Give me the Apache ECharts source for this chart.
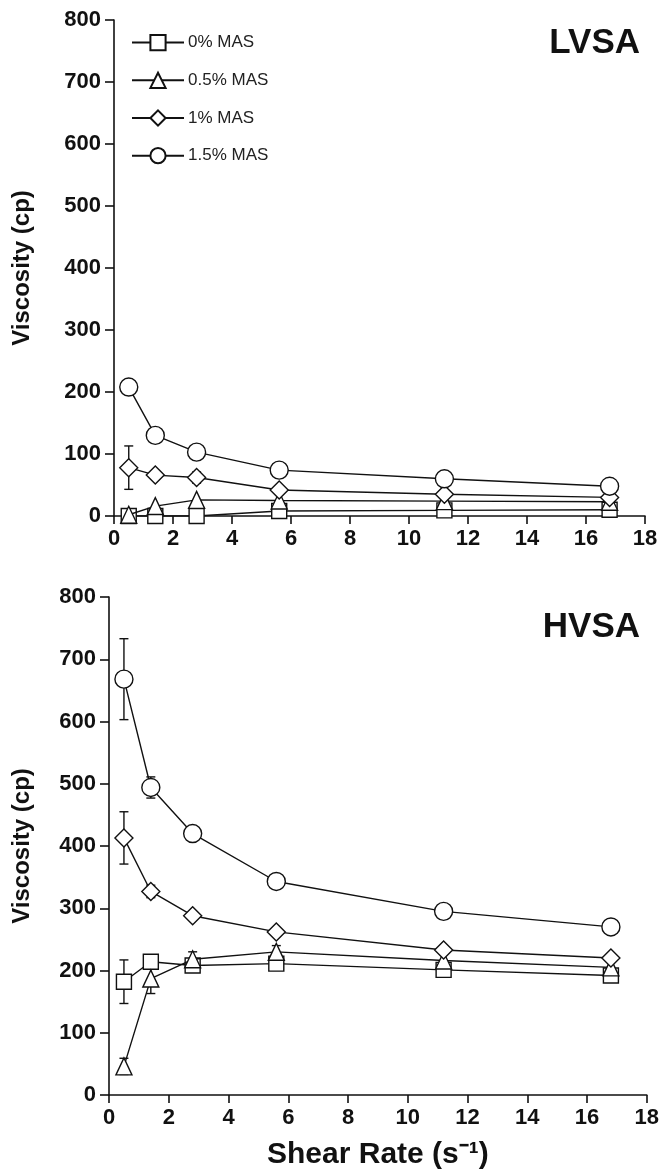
<!DOCTYPE html>
<html>
<head>
<meta charset="utf-8">
<script src="https://cdn.jsdelivr.net/npm/echarts@6/dist/echarts.min.js"></script>
<style>
html,body{margin:0;padding:0;background:#fff;}
#chart{width:662px;height:1171px;}
</style>
</head>
<body>
<div id="chart"></div>
<script>
// ---- data ----
const shearRate = [0.5, 1.4, 2.8, 5.6, 11.2, 16.8];
const seriesNames = ['0% MAS', '0.5% MAS', '1% MAS', '1.5% MAS'];
const xTicks = [0, 2, 4, 6, 8, 10, 12, 14, 16, 18];
const yTicks = [0, 100, 200, 300, 400, 500, 600, 700, 800];

// LVSA (top)
const lvsa0  = [0, 0, 0, 8, 9, 10];
const lvsa05 = [2, 16, 26, 25, 24, 23];
const lvsa1  = [78, 66, 62, 42, 35, 30];
const lvsa15 = [208, 130, 103, 74, 60, 48];
const lvsaErr0  = [0, 0, 0, 0, 0, 0];
const lvsaErr05 = [0, 0, 0, 0, 0, 0];
const lvsaErr1  = [35, 0, 9, 0, 0, 0];
const lvsaErr15 = [6, 0, 0, 0, 0, 0];

// HVSA (bottom)
const hvsa0  = [182, 214, 208, 211, 201, 192];
const hvsa05 = [46, 187, 218, 230, 216, 205];
const hvsa1  = [413, 327, 288, 262, 233, 220];
const hvsa15 = [668, 494, 420, 343, 295, 270];
const hvsaErr0  = [35, 0, 0, 0, 0, 0];
const hvsaErr05 = [13, 24, 12, 10, 0, 0];
const hvsaErr1  = [42, 10, 0, 0, 0, 0];
const hvsaErr15 = [65, 17, 0, 0, 0, 0];

// ---- chart ----
const FONT = '"Liberation Sans", Arial, Helvetica, sans-serif';
const symbols = ['rect', 'triangle', 'diamond', 'circle'];
const symbolSizes = [15, [16, 17], 18, 18];

function pairs(vals) { return shearRate.map((x, i) => [x, vals[i]]); }

function lineSeries(name, vals, idx, grid) {
  return {
    type: 'line', name: name, xAxisIndex: grid, yAxisIndex: grid,
    data: pairs(vals),
    symbol: symbols[idx], symbolSize: symbolSizes[idx], showAllSymbol: true,
    lineStyle: { color: '#111', width: 1.4 },
    itemStyle: { color: '#fff', borderColor: '#111', borderWidth: 1.4 },
    emphasis: { disabled: true },
    z: 3 + idx * 0.1, animation: false
  };
}

function errSeries(name, vals, errs, grid) {
  const d = [];
  shearRate.forEach((x, i) => { if (errs[i] > 0) d.push([x, vals[i], errs[i]]); });
  return {
    type: 'custom', name: name, xAxisIndex: grid, yAxisIndex: grid,
    data: d, encode: { x: 0, y: 1 }, z: 2, silent: true, animation: false,
    renderItem: function (params, api) {
      const x = api.value(0), y = api.value(1), e = api.value(2);
      const t = api.coord([x, y + e]), b = api.coord([x, y - e]);
      const w = 4.5;
      const st = { stroke: '#111', lineWidth: 1.4 };
      return { type: 'group', children: [
        { type: 'line', shape: { x1: t[0], y1: t[1], x2: b[0], y2: b[1] }, style: st },
        { type: 'line', shape: { x1: t[0] - w, y1: t[1], x2: t[0] + w, y2: t[1] }, style: st },
        { type: 'line', shape: { x1: b[0] - w, y1: b[1], x2: b[0] + w, y2: b[1] }, style: st }
      ]};
    }
  };
}

function xAxis(grid, withName) {
  const ax = {
    type: 'value', gridIndex: grid, min: xTicks[0], max: xTicks[xTicks.length - 1], interval: 2,
    axisLine: { onZero: false, lineStyle: { color: '#111', width: 1.6 } },
    axisTick: { show: true, length: 8, lineStyle: { color: '#111', width: 1.6 } },
    axisLabel: { color: '#111', fontSize: 22, fontWeight: 'bold', fontFamily: FONT, margin: 12 },
    splitLine: { show: false }
  };
  if (withName) {
    ax.name = 'Shear Rate (s\u207B\u00B9)';
    ax.nameLocation = 'middle';
    ax.nameGap = 45;
    ax.nameTextStyle = { color: '#111', fontSize: 30, fontWeight: 'bold', fontFamily: FONT };
  }
  return ax;
}

function yAxis(grid, gap) {
  return {
    type: 'value', gridIndex: grid, min: yTicks[0], max: yTicks[yTicks.length - 1], interval: 100,
    name: 'Viscosity (cp)', nameLocation: 'middle', nameGap: gap, nameRotate: 90,
    nameTextStyle: { color: '#111', fontSize: 24, fontWeight: 'bold', fontFamily: FONT },
    axisLine: { show: true, lineStyle: { color: '#111', width: 1.6 } },
    axisTick: { show: true, length: 9, lineStyle: { color: '#111', width: 1.6 } },
    axisLabel: { color: '#111', fontSize: 22, fontWeight: 'bold', fontFamily: FONT, margin: 13 },
    splitLine: { show: false }
  };
}

const lv = [lvsa0, lvsa05, lvsa1, lvsa15];
const lvE = [lvsaErr0, lvsaErr05, lvsaErr1, lvsaErr15];
const hv = [hvsa0, hvsa05, hvsa1, hvsa15];
const hvE = [hvsaErr0, hvsaErr05, hvsaErr1, hvsaErr15];

const series = [];
seriesNames.forEach((n, i) => {
  series.push(errSeries(n + ' err', lv[i], lvE[i], 0));
  series.push(lineSeries(n, lv[i], i, 0));
  series.push(errSeries(n + ' err', hv[i], hvE[i], 1));
  series.push(lineSeries(n, hv[i], i, 1));
});

const chart = echarts.init(document.getElementById('chart'), null, { renderer: 'canvas' });
chart.setOption({
  backgroundColor: '#fff',
  animation: false,
  textStyle: { fontFamily: FONT },
  title: [
    { text: 'LVSA', right: 22, top: 26, padding: 0, textStyle: { fontSize: 35, fontWeight: 'bold', color: '#111', fontFamily: FONT } },
    { text: 'HVSA', right: 22, top: 610, padding: 0, textStyle: { fontSize: 35, fontWeight: 'bold', color: '#111', fontFamily: FONT } }
  ],
  legend: {
    data: seriesNames, orient: 'vertical', left: 131, top: 34, padding: 0,
    itemWidth: 52, itemHeight: 19, itemGap: 20.5,
    selectedMode: false,
    textStyle: { fontSize: 17, color: '#222', fontFamily: FONT, padding: [0, 0, 0, -1] }
  },
  grid: [
    { left: 114, width: 531, top: 20, height: 496 },
    { left: 109, width: 538, top: 597, height: 500 }
  ],
  xAxis: [xAxis(0, false), xAxis(1, true)],
  yAxis: [yAxis(0, 80), yAxis(1, 75)],
  series: series
});
</script>
</body>
</html>
